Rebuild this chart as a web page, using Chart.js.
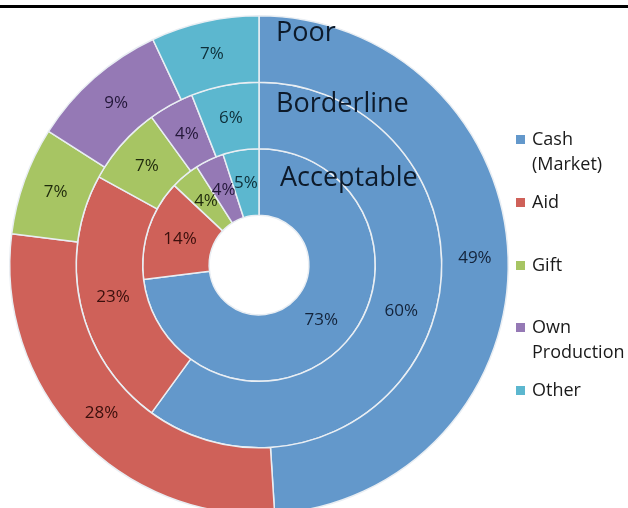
<!DOCTYPE html>
<html>
<head>
<meta charset="utf-8">
<script src="https://cdn.jsdelivr.net/npm/chart.js@4/dist/chart.umd.min.js"></script>
<style>
  html, body { margin: 0; padding: 0; background: #fff; overflow: hidden; width: 628px; height: 508px; }
  #wrap { position: absolute; left: 0; top: 0; width: 628px; height: 530px; }
</style>
</head>
<body>
<div id="wrap"><canvas id="c" width="628" height="530"></canvas></div>
<script>
// Food source shares by consumption group (outer ring = Poor, inner = Acceptable)
const categories = ['Cash (Market)', 'Aid', 'Gift', 'Own Production', 'Other'];
const legendLines = [['Cash', '(Market)'], ['Aid'], ['Gift'], ['Own', 'Production'], ['Other']];
const ringNames = ['Poor', 'Borderline', 'Acceptable'];
const poor       = [49, 28, 7, 9, 7];
const borderline = [60, 23, 7, 4, 6];
const acceptable = [73, 14, 4, 4, 5];
const colors = ['#6398cb', '#cf6159', '#a7c563', '#9579b5', '#5cb7cf'];
const textColors = ['#13233a', '#3a0f0c', '#1f2a0c', '#24183a', '#0e2e38'];

const FONT = '"Open Sans", Lato, "DejaVu Sans", sans-serif';

const ringLabels = {
  id: 'ringLabels',
  beforeDraw(chart) {
    const ctx = chart.ctx;
    ctx.save();
    ctx.fillStyle = '#000';
    ctx.fillRect(0, 5, chart.width, 3);
    ctx.restore();
  },
  afterDatasetsDraw(chart) {
    const ctx = chart.ctx;
    ctx.save();
    // percentage in each segment
    ctx.font = '17px ' + FONT;
    ctx.textAlign = 'center';
    ctx.textBaseline = 'middle';
    chart.data.datasets.forEach((ds, di) => {
      chart.getDatasetMeta(di).data.forEach((arc, i) => {
        const p = arc.tooltipPosition();
        ctx.fillStyle = textColors[i];
        ctx.fillText(ds.data[i] + '%', p.x, p.y);
      });
    });
    // ring names near 12 o'clock
    ctx.font = '27px ' + FONT;
    ctx.textAlign = 'left';
    ctx.textBaseline = 'alphabetic';
    ctx.fillStyle = '#0d1a2a';
    const dy = [25, 30, 37], dx = [17, 17, 21];
    chart.data.datasets.forEach((ds, di) => {
      const arc = chart.getDatasetMeta(di).data[0];
      ctx.fillText(ds.label, arc.x + dx[di], arc.y - arc.outerRadius + dy[di]);
    });
    // legend
    const lx = 516, tx = 532;
    const itemY = [140, 203, 266, 328, 391];
    ctx.font = '18px ' + FONT;
    ctx.textBaseline = 'middle';
    legendLines.forEach((lines, i) => {
      ctx.fillStyle = colors[i];
      ctx.fillRect(lx, itemY[i] - 5, 9, 9);
      ctx.fillStyle = '#1a1a1a';
      lines.forEach((t, k) => ctx.fillText(t, tx, itemY[i] + k * 25));
    });
    ctx.restore();
  }
};

const mk = (label, data) => ({
  label, data,
  backgroundColor: colors,
  borderColor: '#e9eef3',
  borderWidth: 1.5,
  weight: 1
});

new Chart(document.getElementById('c'), {
  type: 'doughnut',
  data: {
    labels: categories,
    datasets: [mk(ringNames[0], poor), mk(ringNames[1], borderline), mk(ringNames[2], acceptable)]
  },
  options: {
    responsive: false,
    animation: false,
    cutout: '20%',
    layout: { padding: { left: 9, right: 119, top: 15, bottom: 15 } },
    plugins: { legend: { display: false }, tooltip: { enabled: false } }
  },
  plugins: [ringLabels]
});
</script>
</body>
</html>
